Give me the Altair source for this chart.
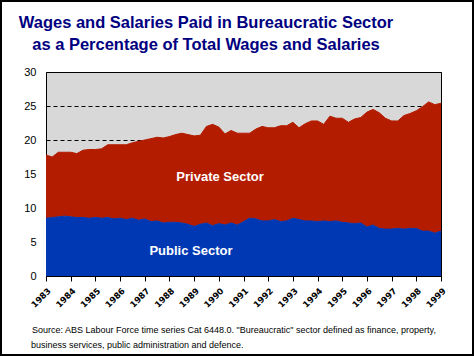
import altair as alt
import pandas as pd

# Quarterly observations, 1983 Q1 .. 1999 Q1 (x position in years)
quarters = [1983 + i / 4 for i in range(65)]

total_pct = [17.8, 17.5, 18.2, 18.2, 18.2, 18.0, 18.5, 18.6, 18.6, 18.7,
             19.3, 19.3, 19.3, 19.3, 19.6, 19.8, 20.0, 20.2, 20.4, 20.3,
             20.5, 20.8, 21.0, 20.8, 20.6, 20.7, 22.0, 22.3, 21.9, 20.9,
             21.4, 21.0, 21.0, 21.0, 21.6, 22.0, 21.8, 21.8, 22.1, 22.1,
             22.6, 21.8, 22.4, 22.8, 22.8, 22.3, 23.5, 23.2, 23.2, 22.6,
             23.1, 23.3, 24.1, 24.5, 24.0, 23.2, 22.8, 22.8, 23.6, 23.9,
             24.3, 24.9, 25.6, 25.2, 25.4]

public_pct = [8.5, 8.6, 8.7, 8.8, 8.7, 8.6, 8.6, 8.5, 8.6, 8.5,
              8.6, 8.4, 8.5, 8.3, 8.5, 8.2, 8.4, 8.0, 8.1, 7.8,
              7.9, 7.9, 7.8, 7.6, 7.3, 7.6, 7.8, 7.4, 7.7, 7.5,
              7.8, 7.5, 8.0, 8.5, 8.4, 8.1, 8.1, 8.3, 8.0, 8.1,
              8.5, 8.3, 8.1, 8.1, 8.0, 8.1, 8.0, 8.1, 7.9, 7.8,
              7.7, 7.8, 7.2, 7.5, 7.0, 6.9, 6.9, 7.0, 6.9, 7.0,
              7.0, 6.6, 6.6, 6.3, 6.6]

sectors = ["Public Sector", "Private Sector"]
sector_colors = ["#0038B4", "#B41C00"]
year_ticks = list(range(1983, 2000))
y_ticks = [0, 5, 10, 15, 20, 25, 30]

title_lines = ["Wages and Salaries Paid in Bureaucratic Sector",
               "as a Percentage of Total Wages and Salaries"]
source_lines = [
    'Source:  ABS Labour Force time series Cat 6448.0.  "Bureaucratic" sector defined as finance, property,',
    "business services, public administration and defence.",
]

rows = []
for q, tot, pub in zip(quarters, total_pct, public_pct):
    rows.append({"year": q, "sector": sectors[0], "ord": 0, "value": pub})
    rows.append({"year": q, "sector": sectors[1], "ord": 1, "value": round(tot - pub, 2)})
df = pd.DataFrame(rows)

label_df = pd.DataFrame({
    "label": ["Private Sector", "Public Sector"],
    "year": [1990.05, 1988.87],
    "value": [14.6, 3.7],
})

x_scale = alt.Scale(domain=[1983, 1999], nice=False, zero=False)
y_scale = alt.Scale(domain=[0, 30], nice=False)

def x_axis():
    return alt.Axis(values=year_ticks, format="d", labelAngle=-45, labelAlign="right",
                    labelBaseline="top", labelFontSize=8.5, labelFont="DejaVu Sans",
                    labelFontWeight="bold", labelColor="black", tickSize=5,
                    tickColor="black", ticks=True, domainColor="black", labelPadding=5,
                    grid=False, labelOverlap=False, labelBound=False, labelFlush=False)

def y_axis():
    return alt.Axis(values=y_ticks, ticks=False, domain=False, labelPadding=10,
                    labelFontSize=11, labelFont="Liberation Sans", labelColor="black",
                    grid=True, gridDash=[4, 3], gridColor="black", gridOpacity=1,
                    gridWidth=1, labelOverlap=False)

areas = alt.Chart(df).mark_area(
    line={"color": "black", "strokeWidth": 1}, interpolate="linear", opacity=1
).encode(
    x=alt.X("year:Q", scale=x_scale, title=None, axis=x_axis()),
    y=alt.Y("value:Q", stack="zero", scale=y_scale, title=None, axis=y_axis()),
    color=alt.Color("sector:N", scale=alt.Scale(domain=sectors, range=sector_colors), legend=None),
    order=alt.Order("ord:Q"),
)

labels = alt.Chart(label_df).mark_text(
    color="white", fontWeight="bold", fontSize=13, font="Liberation Sans"
).encode(
    x=alt.X("year:Q", scale=x_scale, title=None, axis=x_axis()),
    y=alt.Y("value:Q", scale=y_scale, title=None, axis=y_axis()),
    text="label:N",
)

one = pd.DataFrame({"a": [0]})

def text_layer(txt, x, y, **kw):
    return alt.Chart(one).mark_text(text=txt, **kw).encode(x=alt.value(x), y=alt.value(y))

title1 = text_layer(title_lines[0], 160, -44, align="center", baseline="alphabetic",
                    font="Liberation Sans", fontSize=16.5, fontWeight="bold", color="#000080")
title2 = text_layer(title_lines[1], 160, -22, align="center", baseline="alphabetic",
                    font="Liberation Sans", fontSize=16.5, fontWeight="bold", color="#000080")
src1 = text_layer(source_lines[0], -14, 261, align="left", baseline="alphabetic",
                  font="Liberation Sans", fontSize=9, color="black")
src2 = text_layer(source_lines[1], -15, 276, align="left", baseline="alphabetic",
                  font="Liberation Sans", fontSize=9, color="black")

frame = alt.Chart(one).mark_rect(
    fill=None, stroke="black", strokeWidth=2
).encode(
    x=alt.value(-45), x2=alt.value(427), y=alt.value(-71), y2=alt.value(283)
)

chart = alt.layer(areas, labels, title1, title2, src1, src2, frame).properties(
    width=395, height=204,
    autosize=alt.AutoSizeParams(type="none"),
    padding={"left": 46, "top": 72, "right": 33, "bottom": 80},
    background="white",
).configure_view(
    fill="#D8D8D8", stroke="black", strokeWidth=1
)

chart.save("out.html", embed_options={"renderer": "svg", "actions": False})
